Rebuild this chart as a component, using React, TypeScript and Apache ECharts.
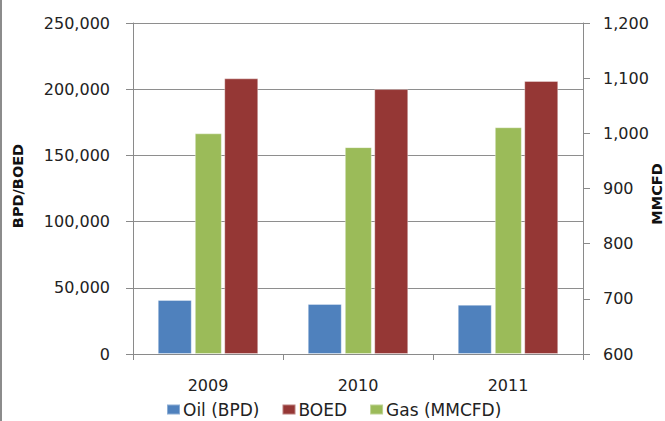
import React, { useEffect, useRef } from "react";
import * as echarts from "echarts";

const categories = ["2009", "2010", "2011"];
const oilBPD = [40800, 37800, 37200];
const boed = [208200, 200100, 206200];
const gasMMCFD = [1000, 975, 1011];
const leftTicks = { min: 0, max: 250000, interval: 50000 };
const rightTicks = { min: 600, max: 1200, interval: 100 };
const leftAxisTitle = "BPD/BOED";
const rightAxisTitle = "MMCFD";

const FONT = "DejaVu Sans";
const fmt = (v: number) => Math.round(v).toLocaleString("en-US");

export default function App() {
  const ref = useRef<HTMLDivElement>(null);
  useEffect(() => {
    if (!ref.current) return;
    const chart = echarts.init(ref.current, undefined, { renderer: "svg" });
    const axisLineColor = "#8a8a8a";
    const titleStyle = { fontFamily: FONT, fontSize: 14.5, fontWeight: "bold", fill: "#111", align: "center", verticalAlign: "middle" };
    chart.setOption({
      animation: false,
      backgroundColor: "#ffffff",
      textStyle: { fontFamily: FONT },
      graphic: [
        { type: "rect", shape: { x: 0, y: 0, width: 2, height: 421 }, style: { fill: "#8c8c8c" } },
        { type: "text", x: 18, y: 186, rotation: Math.PI / 2, style: { ...titleStyle, text: leftAxisTitle } },
        { type: "text", x: 657, y: 194, rotation: Math.PI / 2, style: { ...titleStyle, text: rightAxisTitle } },
      ],
      grid: { left: 133, right: 82, top: 23, bottom: 67, containLabel: false, outerBoundsMode: "none" },
      legend: {
        data: ["Oil (BPD)", "BOED", "Gas (MMCFD)"],
        left: 166,
        top: 401,
        padding: 0,
        itemWidth: 13,
        itemHeight: 10,
        itemGap: 22,
        icon: "rect",
        textStyle: { fontFamily: FONT, fontSize: 17, color: "#222", padding: [0, 0, 0, -2] },
      },
      xAxis: {
        type: "category",
        data: categories,
        axisLine: { show: true, lineStyle: { color: axisLineColor } },
        axisTick: { show: true, length: 6, lineStyle: { color: axisLineColor } },
        axisLabel: { fontFamily: FONT, fontSize: 16, color: "#222", margin: 23 },
        splitLine: { show: false },
      },
      yAxis: [
        {
          type: "value",
          ...leftTicks,
          axisLine: { show: true, lineStyle: { color: axisLineColor } },
          axisTick: { show: true, length: 7, lineStyle: { color: axisLineColor } },
          axisLabel: { fontFamily: FONT, fontSize: 16, color: "#222", margin: 23, formatter: fmt },
          splitLine: { show: true, lineStyle: { color: "#8e8e8e", width: 1 } },
        },
        {
          type: "value",
          ...rightTicks,
          startValue: 600,
          position: "right",
          axisLine: { show: true, lineStyle: { color: axisLineColor } },
          axisTick: { show: true, length: 7, lineStyle: { color: axisLineColor } },
          axisLabel: { fontFamily: FONT, fontSize: 16, color: "#222", margin: 20, formatter: fmt },
          splitLine: { show: false },
        },
      ],
      series: [
        {
          name: "Oil (BPD)",
          type: "bar",
          yAxisIndex: 0,
          data: oilBPD,
          barWidth: 34,
          barGap: "9%",
          itemStyle: { color: "#4F81BD", borderColor: "rgba(255,255,255,0.35)", borderWidth: 1 },
        },
        {
          name: "Gas (MMCFD)",
          type: "bar",
          yAxisIndex: 1,
          data: gasMMCFD,
          barWidth: 27,
          barGap: "9%",
          itemStyle: { color: "#9BBB59", borderColor: "rgba(255,255,255,0.35)", borderWidth: 1 },
        },
        {
          name: "BOED",
          type: "bar",
          yAxisIndex: 0,
          data: boed,
          barWidth: 34,
          barGap: "9%",
          itemStyle: { color: "#953735", borderColor: "rgba(255,255,255,0.35)", borderWidth: 1 },
        },
      ],
    });
    return () => chart.dispose();
  }, []);
  return (
    <div
      ref={ref}
      style={{ position: "fixed", left: 0, top: 0, width: 665, height: 421, background: "#fff" }}
    />
  );
}
